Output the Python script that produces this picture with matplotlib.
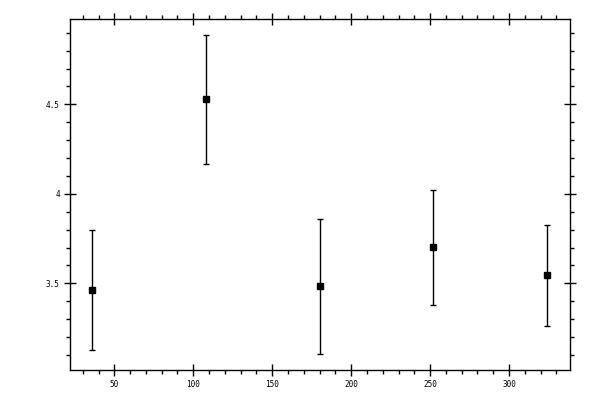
import matplotlib
matplotlib.use("Agg")
import matplotlib.pyplot as plt
from matplotlib.ticker import MultipleLocator

# data
x = [36, 108, 180, 252, 324]
y = [3.461, 4.528, 3.483, 3.701, 3.545]
yerr = [0.335, 0.359, 0.375, 0.320, 0.283]

plt.rcParams['font.family'] = 'DejaVu Sans Mono'

fig = plt.figure(figsize=(6, 4), dpi=100)
ax = fig.add_axes([69.5/600, 1 - 370/400, (570-69.5)/600, (370-19)/400])

ax.errorbar(x, y, yerr=yerr, fmt='s', color='black', ms=4.5,
            elinewidth=1.0, capsize=2, capthick=1.0)

ax.set_xlim(21.6, 338.6)
ax.set_ylim(3.016, 4.977)

ax.xaxis.set_major_locator(MultipleLocator(50))
ax.xaxis.set_minor_locator(MultipleLocator(10))
ax.yaxis.set_major_locator(MultipleLocator(0.5))
ax.yaxis.set_minor_locator(MultipleLocator(0.1))
ax.set_yticks([3.5, 4.0, 4.5])
ax.set_yticklabels(['3.5', '4', '4.5'])

ax.tick_params(which='major', direction='inout', length=8, width=1,
               top=True, right=True, labelsize=5.5, pad=3)
ax.tick_params(which='minor', direction='out', length=3, width=1,
               top=True, right=True)
for s in ax.spines.values():
    s.set_linewidth(1)

fig.savefig('out.png', dpi=100)
